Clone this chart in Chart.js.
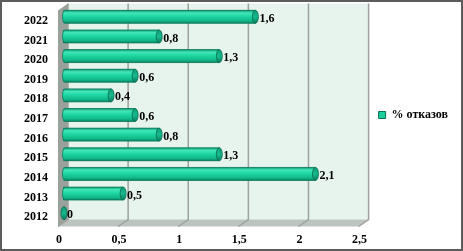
<!DOCTYPE html>
<html>
<head>
<meta charset="utf-8">
<script src="https://cdn.jsdelivr.net/npm/chart.js@4.4.1/dist/chart.umd.min.js"></script>
<style>
html,body{margin:0;padding:0;background:#fff;}
#wrap{width:463px;height:251px;position:relative;}
</style>
</head>
<body>
<div id="wrap"><canvas id="c" width="463" height="251"></canvas></div>
<script>
const years = ['2012','2013','2014','2015','2016','2017','2018','2019','2020','2021','2022'];
const refusals = [0, 0.5, 2.1, 1.3, 0.8, 0.6, 0.4, 0.6, 1.3, 0.8, 1.6];
const seriesName = '% отказов';
const xTicks = [0, 0.5, 1, 1.5, 2, 2.5];

const FONT = {family: '"Liberation Serif", "Times New Roman", serif', size: 12, weight: 'bold'};
const DX = 5, DY = 3.5;

function fmt(v){ return String(v).replace('.', ','); }

const scene3d = {
  id: 'scene3d',
  beforeDatasetsDraw(chart){
    const c = chart.ctx, xs = chart.scales.x, a = chart.chartArea;
    const L = xs.getPixelForValue(0), R = xs.getPixelForValue(2.5);
    const T = a.top, B = a.bottom;
    c.save();
    c.fillStyle = '#e6f4ed';
    c.fillRect(L + DX, T - DY, R - L, B - T);
    c.fillStyle = '#9aa19b';
    c.beginPath();
    c.moveTo(L - DX, T + DY); c.lineTo(L + DX, T - DY);
    c.lineTo(L + DX, B - DY); c.lineTo(L - DX, B + DY); c.closePath(); c.fill();
    c.fillStyle = '#bcc4bf';
    c.beginPath();
    c.moveTo(L - DX, B + DY); c.lineTo(L + DX, B - DY);
    c.lineTo(R + DX, B - DY); c.lineTo(R - DX, B + DY); c.closePath(); c.fill();
    c.strokeStyle = '#9fa39f'; c.lineWidth = 1.5;
    xTicks.forEach(v => {
      const px = xs.getPixelForValue(v);
      c.beginPath();
      c.moveTo(px + DX, T - DY); c.lineTo(px + DX, B - DY);
      c.lineTo(px - DX, B + DY);
      c.stroke();
    });
    c.restore();
  },
  afterDatasetsDraw(chart){
    const c = chart.ctx;
    const meta = chart.getDatasetMeta(0);
    c.save();
    meta.data.forEach((el, i) => {
      const p = el.getProps(['x','y','base','height'], true);
      const h = p.height, top = p.y - h/2, bot = p.y + h/2;
      const x0 = p.base, x1 = p.x;
      const hasBody = x1 - x0 > 0.5;
      if (hasBody) {
        const g = c.createLinearGradient(0, top, 0, bot);
        g.addColorStop(0, '#0c9a72');
        g.addColorStop(0.2, '#43e6b8');
        g.addColorStop(0.45, '#1fd8a4');
        g.addColorStop(0.8, '#12b98a');
        g.addColorStop(1, '#0a8563');
        c.fillStyle = g;
        c.beginPath();
        c.moveTo(x1, top);
        c.lineTo(x0 + 2, top);
        c.ellipse(x0 + 2, p.y, 2.5, h/2, 0, -Math.PI/2, Math.PI/2, true);
        c.lineTo(x1, bot);
        c.closePath();
        c.fill();
        c.strokeStyle = '#0b7a5b'; c.lineWidth = 0.8;
        c.stroke();
      }
      const cg = c.createLinearGradient(0, top, 0, bot);
      cg.addColorStop(0, '#0e9c76');
      cg.addColorStop(0.5, '#18b98d');
      cg.addColorStop(1, '#0a7f5f');
      c.fillStyle = cg;
      c.beginPath();
      c.ellipse(x1 + (hasBody ? 0 : 1), p.y, 3, h/2, 0, 0, Math.PI*2);
      c.fill();
      c.strokeStyle = '#086a4f'; c.lineWidth = 0.8; c.stroke();
      c.fillStyle = '#000';
      c.font = 'bold 12px "Liberation Serif", "Times New Roman", serif';
      c.textBaseline = 'middle'; c.textAlign = 'left';
      c.fillText(fmt(refusals[i]), x1 + 4, p.y + 2);
    });
    c.restore();
  },
  afterDraw(chart){
    const c = chart.ctx;
    c.save();
    c.strokeStyle = '#5c5c5c'; c.lineWidth = 2;
    c.strokeRect(1, 1, chart.width - 2, chart.height - 2);
    c.restore();
  }
};

new Chart(document.getElementById('c'), {
  type: 'bar',
  data: {
    labels: years,
    datasets: [{
      label: seriesName,
      data: refusals,
      backgroundColor: '#1ccf9c',
      borderColor: '#0a6e52',
      borderWidth: 1,
      categoryPercentage: 0.66,
      barPercentage: 1
    }]
  },
  options: {
    indexAxis: 'y',
    responsive: false,
    animation: false,
    layout: {padding: {left: 22, top: 7, bottom: 3, right: 5}},
    scales: {
      x: {
        min: 0, max: 2.5,
        grid: {display: false, drawTicks: false},
        border: {display: false},
        afterBuildTicks(s){ s.ticks = xTicks.map(v => ({value: v})); },
        afterFit(s){ s.paddingLeft = 0; s.paddingRight = 0; s.height = 25; },
        ticks: {
          color: '#000', font: FONT, padding: 10, labelOffset: -4,
          maxRotation: 0, autoSkip: false,
          callback: v => fmt(v)
        }
      },
      y: {
        reverse: true,
        grid: {display: false, drawTicks: false},
        border: {display: false},
        afterFit(s){ s.paddingTop = 0; s.paddingBottom = 0; s.width = 41; },
        ticks: {color: '#000', font: FONT, padding: 15, labelOffset: 4}
      }
    },
    plugins: {
      legend: {
        position: 'right',
        fullSize: false,
        labels: {
          boxWidth: 7, boxHeight: 7, padding: 15,
          color: '#000', font: FONT
        }
      },
      tooltip: {enabled: false}
    }
  },
  plugins: [scene3d]
});
</script>
</body>
</html>
